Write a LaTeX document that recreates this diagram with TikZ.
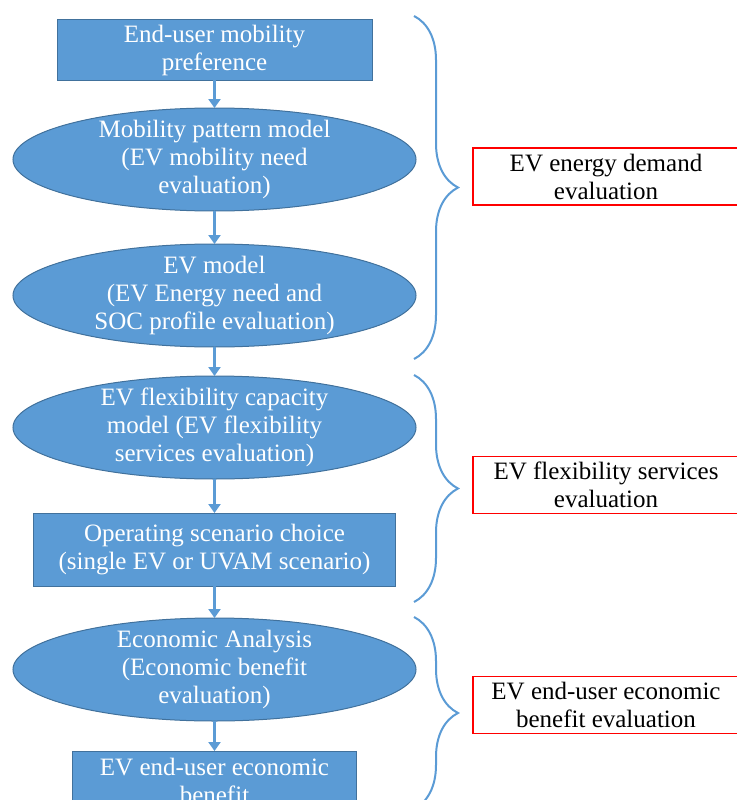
\documentclass[tikz,border=0pt]{standalone}
\usepackage{fontspec}
\setmainfont{Liberation Serif}
\usetikzlibrary{arrows.meta,positioning,shapes.geometric,decorations.pathreplacing}
\definecolor{offblue}{RGB}{91,155,213}
\definecolor{offedge}{RGB}{65,113,156}
\definecolor{offred}{RGB}{255,0,0}
\tikzset{
  flow/.style={-{Triangle[length=9pt,width=12pt]}, line width=2.5pt, draw=offblue},
  stage/.style={
    draw=offedge,
    fill=offblue,
    line width=1pt,
    text=white,
    align=center,
    inner sep=0pt,
    outer sep=0pt,
    font=\fontsize{25}{28}\selectfont
  },
  blockbox/.style={stage, rectangle},
  blockoval/.style={stage, ellipse, inner ysep=-7pt, minimum width=403pt, minimum height=103pt},
  resultbox/.style={
    draw=offred,
    line width=1.5pt,
    fill=white,
    align=center,
    inner sep=0pt,
    outer sep=0pt,
    minimum width=266pt,
    minimum height=57pt,
    font=\fontsize{25}{28}\selectfont
  },
  groupbrace/.style={draw=offblue, line width=2pt, decorate, decoration={brace, amplitude=44pt}}
}
\begin{document}
\begin{tikzpicture}[x=1pt, y=-1pt]
  \useasboundingbox (0,0) rectangle (736,800);

  % flow chain
  \node[blockbox, minimum width=315pt, minimum height=60pt] (pref) at (214.5,50)
    {End-user mobility\\preference};
  \node[blockoval, below=28pt of pref] (pattern)
    {Mobility pattern model\\(EV mobility need\\evaluation)};
  \node[blockoval, below=33pt of pattern] (evmodel)
    {EV model\\(EV Energy need and\\SOC profile evaluation)};
  \node[blockoval, below=29pt of evmodel] (flexcap)
    {EV flexibility capacity\\model (EV flexibility\\services evaluation)};
  \node[blockbox, below=34pt of flexcap, minimum width=362pt, minimum height=73pt] (scenario)
    {Operating scenario choice\\(single EV or UVAM scenario)};
  \node[blockoval, below=32pt of scenario] (economic)
    {Economic Analysis\\(Economic benefit\\evaluation)};
  \node[blockbox, below=30pt of economic, minimum width=284pt, minimum height=60pt] (benefit)
    {EV end-user economic\\benefit};

  \draw[flow] (pref) -- (pattern);
  \draw[flow] (pattern) -- (evmodel);
  \draw[flow] (evmodel) -- (flexcap);
  \draw[flow] (flexcap) -- (scenario);
  \draw[flow] (scenario) -- (economic);
  \draw[flow] (economic) -- (benefit);

  % groups
  \coordinate (demandtop) at (414,16);
  \coordinate (demandbot) at (414,359);
  \coordinate (flextop) at (414,375);
  \coordinate (flexbot) at (414,602);
  \coordinate (econtop) at (414,617);
  \coordinate (econbot) at (414,809);
  \draw[groupbrace] (demandtop) -- (demandbot);
  \draw[groupbrace] (flextop) -- (flexbot);
  \draw[groupbrace] (econtop) -- (econbot);

  \node[resultbox, anchor=west] (demand) at (473,176.5)
    {EV energy demand\\evaluation};
  \node[resultbox, anchor=west] (services) at (473,485)
    {EV flexibility services\\evaluation};
  \node[resultbox, anchor=west] (enduser) at (473,705)
    {EV end-user economic\\benefit evaluation};
\end{tikzpicture}
\end{document}
